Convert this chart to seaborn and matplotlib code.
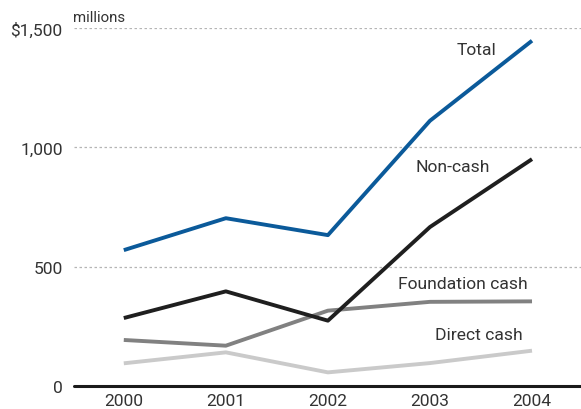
import pandas as pd
import numpy as np
import matplotlib.pyplot as plt
import seaborn as sns

# Datos (millones de dolares)
years = [2000, 2001, 2002, 2003, 2004]
total = [569, 703, 632, 1112, 1448]
non_cash = [284, 396, 273, 666, 951]
foundation_cash = [192, 168, 315, 352, 354]
direct_cash = [94, 140, 56, 95, 147]

series = ["Total", "Non-cash", "Foundation cash", "Direct cash"]
colores = {"Total": "#0b5a9a", "Non-cash": "#1f1f1f",
           "Foundation cash": "#818181", "Direct cash": "#cacaca"}

df = pd.DataFrame({
    "year": years * 4,
    "value": total + non_cash + foundation_cash + direct_cash,
    "serie": np.repeat(series, len(years)),
})

sns.set_style("white")
plt.rcParams["font.family"] = ["Roboto", "DejaVu Sans"]

fig = plt.figure(figsize=(5.81, 4.10), dpi=100)
ax = fig.add_axes([0.127, 0.0568, 0.873, 0.8717])

# gridlines punteadas
for y in [500, 1000, 1500]:
    ax.axhline(y, color="#b5b5b5", lw=0.9, ls=(0, (2, 2)), zorder=0)

sns.lineplot(data=df, x="year", y="value", hue="serie", palette=colores,
             hue_order=series[::-1], lw=2.8, legend=False, ax=ax,
             solid_capstyle="butt")

ax.axhline(0, color="#1a1a1a", lw=2.2, zorder=5, clip_on=False)

ax.set_xlim(1999.51, 2004.48)
ax.set_ylim(0, 1500)
ax.set_xticks(years)
ax.set_xticklabels([str(y) for y in years])
ax.set_yticks([0, 500, 1000, 1500])
ax.set_yticklabels(["0", "500", "1,000", "$1,500"])
ax.tick_params(axis="both", length=0, labelsize=12.5, colors="#333333")
ax.tick_params(axis="y", pad=8)
ax.tick_params(axis="x", pad=5)
for s in ax.spines.values():
    s.set_visible(False)
ax.set_xlabel("")
ax.set_ylabel("")

# etiquetas de las series
etiquetas = [("Total", 2003.46, 1410), ("Non-cash", 2003.22, 918),
             ("Foundation cash", 2003.32, 431), ("Direct cash", 2003.48, 217)]
for txt, x, y in etiquetas:
    ax.text(x, y, txt, ha="center", va="center", fontsize=12.6, color="#333333")

fig.text(0.1265, 0.955, "millions", ha="left", va="center", fontsize=10.8, color="#333333")

fig.savefig("out.png", dpi=100)
